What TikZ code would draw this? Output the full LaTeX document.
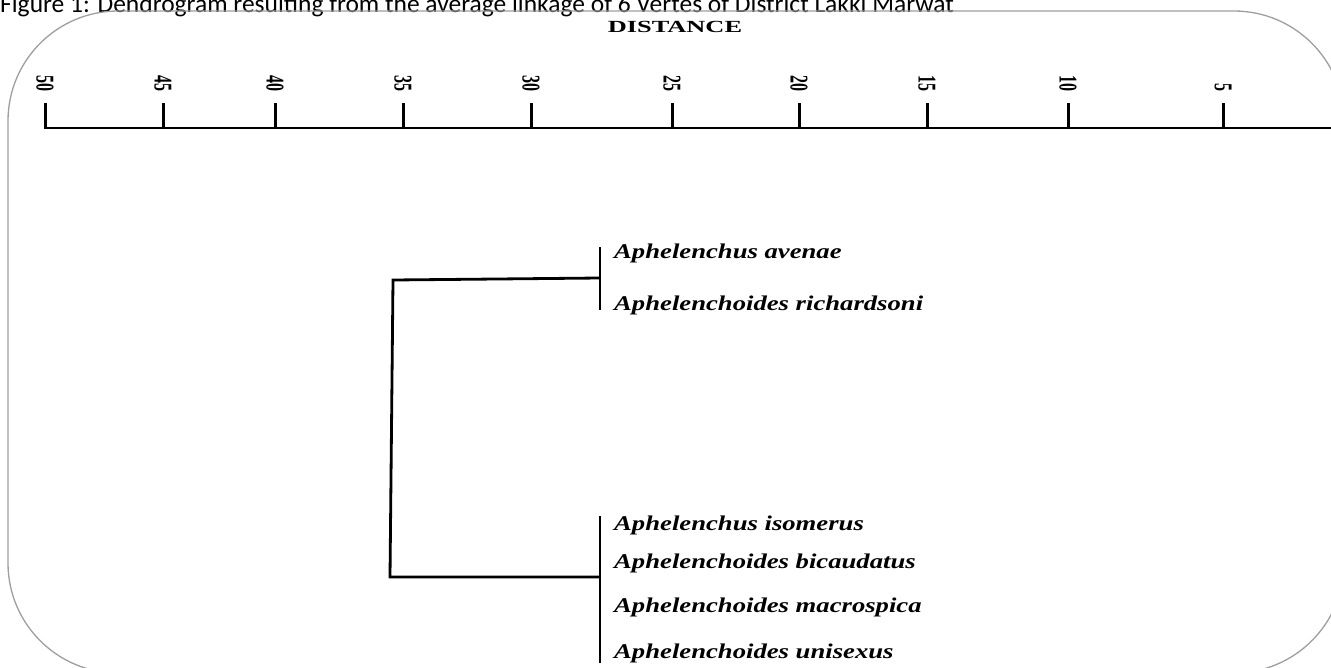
\documentclass[tikz,border=0pt]{standalone}
\usepackage{fontspec}
\setmainfont{Liberation Serif}
\newfontfamily\capfont{Carlito}
\begin{document}
\begin{tikzpicture}[x=1pt,y=-1pt,
  frame/.style={draw=black!38, line width=1.3pt, rounded corners=110pt},
  axisline/.style={line width=2.6pt, line cap=rect},
  tickline/.style={line width=3pt},
  branch/.style={line width=2.8pt},
  ticklabel/.style={rotate=-90, anchor=east, inner sep=0pt, font=\fontsize{16}{16}\selectfont\bfseries},
  species/.style={anchor=west, inner sep=0pt, font=\fontsize{21}{21}\selectfont\bfseries\itshape}
]
\useasboundingbox (0,0) rectangle (1331,667);
\clip (0,0) rectangle (1331,667);
% caption (cut at the top)
\node[anchor=base west, inner sep=0pt, font=\capfont\fontsize{25.5}{25.5}\selectfont] (cap) at (0,12) {Figure 1: Dendrogram resulting from the average linkage of 6 Vertes of District Lakki Marwat};
% rounded frame
\draw[frame] (8,11) rectangle (1344,673);
% title
\node[inner sep=0pt, font=\fontsize{17}{17}\selectfont\bfseries] (title) at (675,27) {\scalebox{1.55}[1]{DISTANCE}};
% axis
\coordinate (a0) at (45,128);
\coordinate (a1) at (1331,128);
\draw[axisline] (a0) -- (a1);
\foreach \x/\v in {45/50,163/45,275/40,403/35,531/30,672/25,799/20,927/15,1068/10,1223/5}{
  \coordinate (t\v) at (\x,128);
  \coordinate (u\v) at (\x,103);
  \draw[tickline] (t\v) -- (u\v);
  \node[ticklabel] (l\v) at (\x,92) {\scalebox{1}[1.6]{\v}};
}
% dendrogram
\coordinate (v1t) at (600,247);
\coordinate (v1b) at (600,310);
\coordinate (v1m) at (600,278);
\coordinate (r1) at (393,280);
\coordinate (r2) at (390,577);
\coordinate (v2m) at (600,577);
\coordinate (v2t) at (600,516);
\coordinate (v2b) at (600,663);
\draw[branch] (v1t) -- (v1b);
\draw[branch] (v1m) -- (r1) -- (r2) -- (v2m);
\draw[branch] (v2t) -- (v2b);
% species
\node[species] (s1) at (614,253) {\scalebox{1.27}[1]{Aphelenchus avenae}};
\node[species] (s2) at (614,305) {\scalebox{1.27}[1]{Aphelenchoides richardsoni}};
\node[species] (s3) at (614,525) {\scalebox{1.27}[1]{Aphelenchus isomerus}};
\node[species] (s4) at (614,563) {\scalebox{1.27}[1]{Aphelenchoides bicaudatus}};
\node[species] (s5) at (614,607) {\scalebox{1.27}[1]{Aphelenchoides macrospica}};
\node[species] (s6) at (614,653) {\scalebox{1.27}[1]{Aphelenchoides unisexus}};
\end{tikzpicture}
\end{document}
